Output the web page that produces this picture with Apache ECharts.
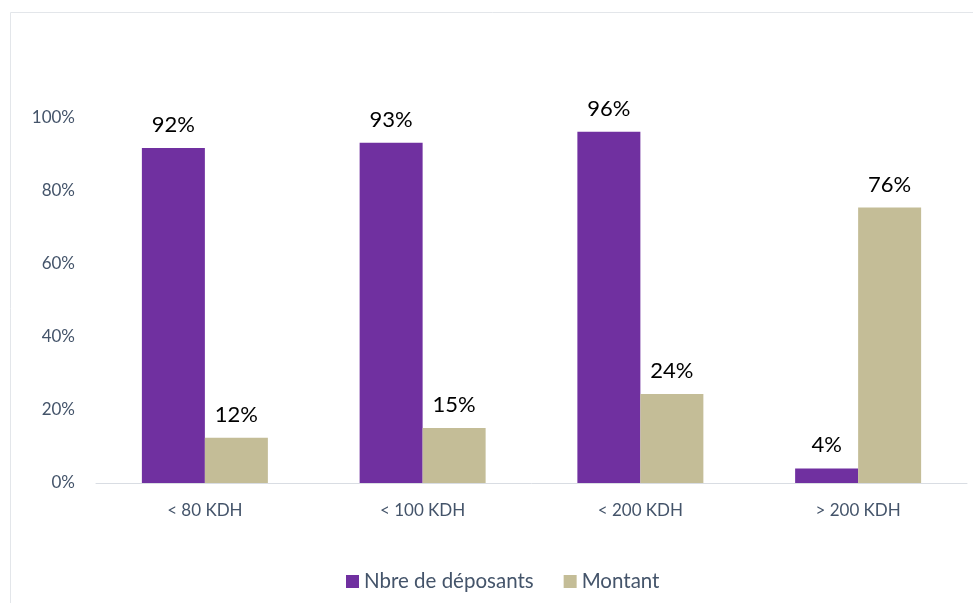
<!DOCTYPE html>
<html><head><meta charset="utf-8">
<script src="https://cdn.jsdelivr.net/npm/echarts@6/dist/echarts.min.js"></script>
<style>html,body{margin:0;padding:0;background:#fff}#c{width:973px;height:603px}</style>
</head><body><div id="c"></div>
<script>
const categories = ['< 80 KDH', '< 100 KDH', '< 200 KDH', '> 200 KDH'];
const deposants = [91.8, 93.2, 96.2, 4.0];
const montant = [12.4, 15.1, 24.4, 75.5];
const seriesNames = ['Nbre de déposants', 'Montant'];
const yTicks = [0, 20, 40, 60, 80, 100];

const FONT = 'Lato, "Open Sans", sans-serif';
const chart = echarts.init(document.getElementById('c'), null, {renderer: 'canvas'});
const lbl = {show: true, position: 'top', distance: 12, color: '#000', fontSize: 22, fontFamily: FONT,
  formatter: p => Math.round(p.value) + '%'};
chart.setOption({
  animation: false,
  graphic: [{type: 'rect', shape: {x: 10.5, y: 12.5, width: 980, height: 620},
    style: {fill: 'none', stroke: '#e3e6ea', lineWidth: 1}, silent: true}],
  grid: {left: 96, right: 6, top: 118, bottom: 120, containLabel: false},
  legend: {bottom: 6, left: 341, itemWidth: 13, itemHeight: 13, itemGap: 30,
    icon: 'rect', textStyle: {color: '#44546A', fontSize: 20.5, fontFamily: FONT},
    data: seriesNames},
  xAxis: {type: 'category', data: categories,
    axisLine: {lineStyle: {color: '#d9dde3', width: 1}}, axisTick: {show: false},
    axisLabel: {color: '#44546A', fontSize: 17, fontFamily: FONT, margin: 19}},
  yAxis: {type: 'value', min: 0, max: 100, interval: 20,
    axisLine: {show: false}, axisTick: {show: false}, splitLine: {show: false},
    axisLabel: {color: '#44546A', fontSize: 17, fontFamily: FONT, margin: 21,
      formatter: v => yTicks.includes(v) ? v + '%' : ''}},
  series: [
    {name: seriesNames[0], type: 'bar', data: deposants, barWidth: 63, barGap: '0%',
      itemStyle: {color: '#7030A0'}, label: lbl},
    {name: seriesNames[1], type: 'bar', data: montant, barWidth: 63, barGap: '0%',
      itemStyle: {color: '#C4BD97'}, label: lbl}
  ]
});
</script></body></html>
